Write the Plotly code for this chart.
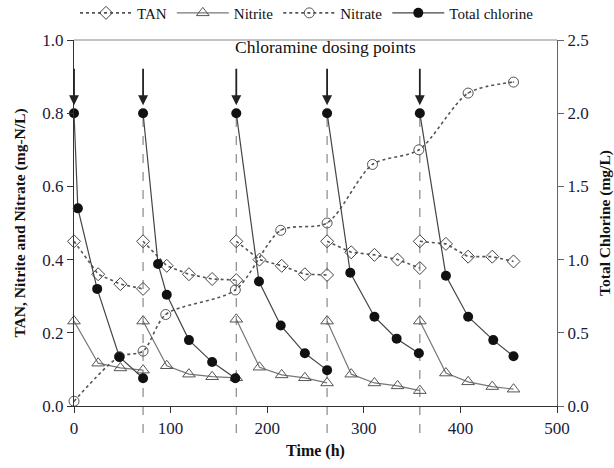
import plotly.graph_objects as go

# ---- data ----
dosing_times = [0, 71.5, 168, 262, 358]

cl_time = [0, 4, 24, 47, 71.5, None,
           71.5, 87, 96, 119, 143, 167, None,
           168, 191.5, 214, 239, 262, None,
           262, 286, 311, 334, 357, None,
           358, 385, 408, 434, 455]
cl_val = [2.0, 1.35, 0.80, 0.335, 0.19, None,
          2.0, 0.97, 0.76, 0.45, 0.30, 0.19, None,
          2.0, 0.85, 0.55, 0.36, 0.245, None,
          2.0, 0.91, 0.61, 0.46, 0.36, None,
          2.0, 0.89, 0.61, 0.45, 0.34]

n_time = [0, 25, 48, 71.5, None,
          71.5, 96, 119, 143, 168, None,
          168, 192, 215, 239, 262, None,
          262, 287, 311, 335, 358, None,
          358, 385, 408, 433, 455]
nitrite = [0.232, 0.117, 0.104, 0.098, None,
           0.232, 0.110, 0.087, 0.080, 0.077, None,
           0.237, 0.106, 0.085, 0.077, 0.063, None,
           0.232, 0.087, 0.063, 0.055, 0.042, None,
           0.232, 0.090, 0.066, 0.053, 0.046]
tan = [0.45, 0.36, 0.333, 0.32, None,
       0.45, 0.383, 0.36, 0.347, 0.344, None,
       0.45, 0.40, 0.383, 0.36, 0.358, None,
       0.45, 0.42, 0.413, 0.40, 0.377, None,
       0.45, 0.443, 0.408, 0.408, 0.395]

nitrate_time = [0, 47, 71.5, 95, 167, 214, 262, 309, 357, 408, 455]
nitrate = [0.013, 0.135, 0.15, 0.25, 0.317, 0.48, 0.50, 0.66, 0.70, 0.855, 0.885]

x_ticks = [0, 100, 200, 300, 400, 500]
y_ticks = [0.0, 0.2, 0.4, 0.6, 0.8, 1.0]
y2_ticks = [0.0, 0.5, 1.0, 1.5, 2.0, 2.5]

FONT = "Liberation Serif"

fig = go.Figure()

fig.add_trace(go.Scatter(
    x=n_time, y=tan, name="TAN", mode="lines+markers",
    line=dict(color="#555", width=1.6, dash="dot"),
    marker=dict(symbol="diamond-open", size=10, color="#444", line=dict(width=1)),
    cliponaxis=False))
fig.add_trace(go.Scatter(
    x=n_time, y=nitrite, name="Nitrite", mode="lines+markers",
    line=dict(color="#777", width=1.2),
    marker=dict(symbol="triangle-up-open", size=11, color="#555", line=dict(width=1)),
    cliponaxis=False))
fig.add_trace(go.Scatter(
    x=nitrate_time, y=nitrate, name="Nitrate", mode="lines+markers",
    line=dict(color="#555", width=1.6, dash="dot", shape="spline", smoothing=0.8),
    marker=dict(symbol="circle-dot", size=10, color="rgba(0,0,0,0)",
                line=dict(width=1, color="#555")),
    cliponaxis=False))
fig.add_trace(go.Scatter(
    x=cl_time, y=cl_val, name="Total chlorine", mode="lines+markers", yaxis="y2",
    line=dict(color="#444", width=1.2),
    marker=dict(symbol="circle", size=10, color="#111"),
    cliponaxis=False))

# vertical dashed lines at dosing points
for t in dosing_times[1:]:
    fig.add_shape(type="line", x0=t, x1=t, xref="x", yref="paper",
                  y0=-0.074, y1=0.8, line=dict(color="#888", width=1.2, dash="dash"),
                  layer="below")

# top frame line (lighter than the axes)
fig.add_shape(type="line", x0=0, x1=1, xref="paper", y0=1, y1=1, yref="paper",
              line=dict(color="#888", width=1.2))

# dosing arrows
for t in dosing_times:
    fig.add_annotation(x=t, y=2.0, xref="x", yref="y2", ax=0, ay=-46,
                       text="", showarrow=True, arrowhead=2, arrowsize=1.1,
                       arrowwidth=1.8, arrowcolor="#222", standoff=8)

fig.add_annotation(x=0.52, y=0.981, xref="paper", yref="paper",
                   text="Chloramine dosing points", showarrow=False,
                   font=dict(family=FONT, size=17.5, color="#111"), yanchor="middle")

axis_common = dict(showline=True, linewidth=1.2, ticks="outside",
                   ticklen=6, showgrid=False, zeroline=False,
                   tickfont=dict(family=FONT, size=17, color="#1a1a3a"))

fig.update_layout(
    width=614, height=468,
    margin=dict(l=74, r=57, t=40, b=62, autoexpand=False),
    paper_bgcolor="white", plot_bgcolor="white",
    font=dict(family=FONT, color="#111"),
    xaxis=dict(range=[0, 500], tickvals=x_ticks, linecolor="#333", tickcolor="#333",
               title=dict(text="<b>Time (h)</b>", font=dict(family=FONT, size=16), standoff=8),
               **axis_common),
    yaxis=dict(range=[0, 1.0], tickvals=y_ticks, tickformat=".1f",
               linecolor="#333", tickcolor="#333",
               title=dict(text="<b>TAN, Nitrite and Nitrate (mg-N/L)</b>",
                          font=dict(family=FONT, size=15.5), standoff=12),
               **axis_common),
    yaxis2=dict(range=[0, 2.5], tickvals=y2_ticks, tickformat=".1f", overlaying="y",
                side="right", linecolor="#666", tickcolor="#666",
                title=dict(text="<b>Total Chlorine (mg/L)</b>",
                           font=dict(family=FONT, size=15.5), standoff=12),
                **axis_common),
    legend=dict(orientation="h", x=0.5, xanchor="center", xref="container",
                y=0.972, yanchor="middle", yref="container",
                font=dict(family=FONT, size=15, color="#111"), itemwidth=52,
                bgcolor="rgba(0,0,0,0)"),
    showlegend=True,
)

fig.write_html("out.html")
